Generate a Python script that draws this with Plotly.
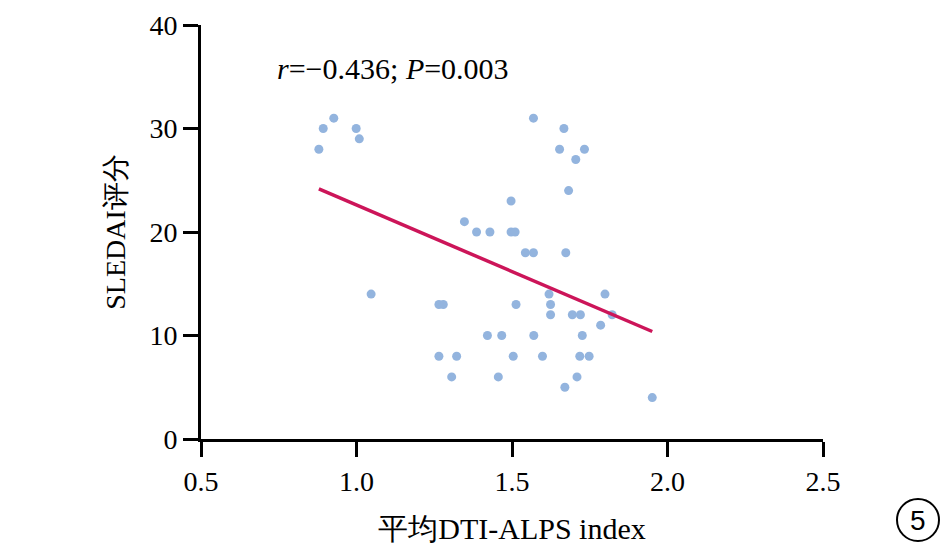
import numpy as np
import plotly.graph_objects as go

# DTI-ALPS index vs SLEDAI score
alps = [0.879, 0.893, 0.927, 0.999, 1.009, 1.047,
        1.347, 1.386, 1.429, 1.497, 1.510, 1.497, 1.543, 1.569, 1.569,
        1.667, 1.653, 1.733, 1.705, 1.682, 1.673,
        1.799, 1.619, 1.265, 1.279, 1.513, 1.624, 1.624,
        1.694, 1.720, 1.822, 1.785,
        1.421, 1.467, 1.570, 1.726,
        1.265, 1.322, 1.504, 1.598, 1.718, 1.748,
        1.306, 1.456, 1.709, 1.670, 1.951]
sledai = [28, 30, 31, 30, 29, 14,
          21, 20, 20, 20, 20, 23, 18, 18, 31,
          30, 28, 28, 27, 24, 18,
          14, 14, 13, 13, 13, 13, 12,
          12, 12, 12, 11,
          10, 10, 10, 10,
          8, 8, 8, 8, 8, 8,
          6, 6, 6, 5, 4]

x_ticks = [0.5, 1.0, 1.5, 2.0, 2.5]
y_ticks = [0, 10, 20, 30, 40]

# linear fit across the data range
slope, icpt = np.polyfit(alps, sledai, 1)
fit_x = [min(alps), max(alps)]
fit_y = [slope * v + icpt for v in fit_x]

serif = "Liberation Serif"
W, H = 945, 545
L, R, T, B = 201, 122, 25, 106
pw, ph = W - L - R, H - T - B

fig = go.Figure()
fig.add_trace(go.Scatter(
    x=alps, y=sledai, mode="markers",
    marker=dict(size=9, color="#93b4de"),
    showlegend=False,
))
fig.add_trace(go.Scatter(
    x=fit_x, y=fit_y, mode="lines",
    line=dict(color="#cc1559", width=3.5),
    showlegend=False,
))

axis_common = dict(
    showline=True, linecolor="black", linewidth=3,
    ticks="outside", ticklen=15, tickwidth=3, tickcolor="black",
    showgrid=False, zeroline=False, automargin=False,
    tickfont=dict(family=serif, size=28, color="black"),
)

# circled figure number in the bottom-right corner (pixel -> paper fraction)
cx, cy, rad = (918 - L) / pw, (T + ph - 520) / ph, 21

fig.update_layout(
    width=W, height=H,
    margin=dict(l=L, r=R, t=T, b=B),
    paper_bgcolor="white", plot_bgcolor="white",
    xaxis=dict(range=[0.5, 2.5], tickvals=x_ticks,
               ticktext=[f"{v:.1f}" for v in x_ticks],
               title=dict(text="平均DTI-ALPS index", standoff=24,
                          font=dict(family=serif, size=30, color="black")),
               **axis_common),
    yaxis=dict(range=[0, 40], tickvals=y_ticks,
               title=dict(text="SLEDAI评分", standoff=16,
                          font=dict(family=serif, size=28, color="black")),
               **axis_common),
    annotations=[
        dict(x=0.738, y=35.8, xref="x", yref="y",
             xanchor="left", yanchor="middle", showarrow=False,
             text="<i>r</i>=−0.436; <i>P</i>=0.003",
             font=dict(family=serif, size=30, color="black")),
        dict(x=cx, y=cy, xref="paper", yref="paper", showarrow=False,
             xanchor="center", yanchor="middle",
             text="5", font=dict(family="Liberation Sans", size=28, color="black")),
    ],
)

fig.add_shape(type="circle", xref="paper", yref="paper",
              x0=cx - rad / pw, x1=cx + rad / pw,
              y0=cy - rad / ph, y1=cy + rad / ph,
              line=dict(color="black", width=2))

fig.write_html("out.html", config={"displayModeBar": False},
               post_script="document.body.style.margin='0';")
